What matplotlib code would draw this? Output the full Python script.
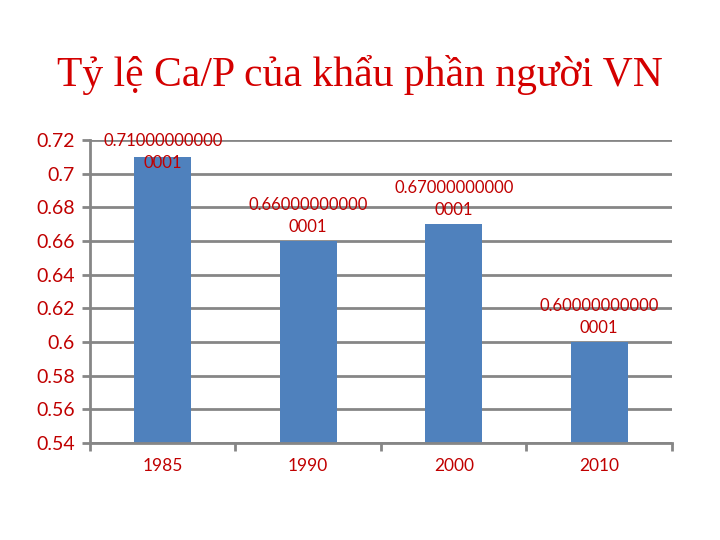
import matplotlib
matplotlib.use("Agg")
import matplotlib.pyplot as plt
from matplotlib.ticker import FixedLocator

years = ["1985", "1990", "2000", "2010"]
values = [0.71, 0.66, 0.67, 0.60]
value_labels = ["0.71000000000\n0001", "0.66000000000\n0001",
                "0.67000000000\n0001", "0.60000000000\n0001"]
y_ticks = [0.54, 0.56, 0.58, 0.60, 0.62, 0.64, 0.66, 0.68, 0.70, 0.72]
y_tick_labels = ["0.54", "0.56", "0.58", "0.6", "0.62", "0.64", "0.66", "0.68", "0.7", "0.72"]

LABEL_FONT = ["Lato", "DejaVu Sans"]
RED = "#C00000"
GRID = "#868686"
BAR = "#4F81BD"

fig = plt.figure(figsize=(7.2, 5.4), dpi=100)
ax = fig.add_axes([0.125, 0.1796, 0.8083, 0.5611])

x = list(range(len(years)))
ax.bar(x, values, width=0.39, color=BAR, zorder=3)
ax.set_xlim(-0.5, len(years) - 0.5)
ax.set_ylim(y_ticks[0], y_ticks[-1])

ax.set_yticks(y_ticks)
ax.set_yticklabels(y_tick_labels, fontfamily=LABEL_FONT, fontsize=14, color=RED)
ax.yaxis.grid(True, color=GRID, linewidth=2, zorder=1)
ax.tick_params(axis="y", length=6, width=2, color=GRID, pad=5)

ax.set_xticks(x)
ax.set_xticklabels(years, fontfamily=LABEL_FONT, fontsize=12.5, color=RED)
ax.tick_params(axis="x", which="major", length=0, pad=11)
ax.xaxis.set_minor_locator(FixedLocator([i - 0.5 for i in range(len(years) + 1)]))
ax.tick_params(axis="x", which="minor", length=6, width=2, color=GRID)

for s in ["top", "right"]:
    ax.spines[s].set_visible(False)
for s in ["left", "bottom"]:
    ax.spines[s].set_color(GRID)
    ax.spines[s].set_linewidth(2)
ax.spines["bottom"].set_zorder(4)

# data labels
top_lim = y_ticks[-1]
for xi, v, lab in zip(x, values, value_labels):
    disp = ax.transData.transform((xi, v))
    top_disp = ax.transData.transform((xi, top_lim))
    y_bottom = disp[1] + 6
    if y_bottom + 34 > top_disp[1] + 3:
        y_bottom = top_disp[1] + 3 - 34
    xy = ax.transData.inverted().transform((disp[0], y_bottom))
    ax.text(xi, xy[1], lab, ha="center", va="bottom", multialignment="center",
            fontfamily=LABEL_FONT, fontsize=12, color=RED, linespacing=1.5,
            zorder=5)

fig.text(0.5, 0.862, "Tỷ lệ Ca/P của khẩu phần người VN", ha="center", va="center",
         fontfamily=["Liberation Serif", "DejaVu Serif"], fontsize=30, color="#D40000")

fig.savefig("out.png", dpi=100)
